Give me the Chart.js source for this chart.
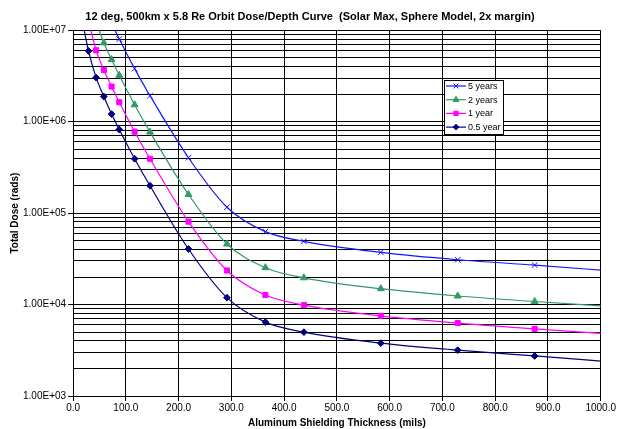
<!DOCTYPE html>
<html>
<head>
<meta charset="utf-8">
<script src="https://cdn.jsdelivr.net/npm/chart.js@4/dist/chart.umd.min.js"></script>
<style>
  html, body { margin: 0; padding: 0; background: #fff; }
  #wrap { width: 617px; height: 429px; }
</style>
</head>
<body>
<div id="wrap"><canvas id="myChart" width="617" height="429"></canvas></div>
<script>
// shielding thickness in mils (0.1 .. 7 g/cm2 of aluminium)
const thicknessMils = [14.6, 29.2, 43.7, 58.3, 72.9, 87.5, 116.6, 145.8, 218.7, 291.6, 364.5, 437.4, 583.2, 729.0, 874.8, 1020.6];

// total dose (rads)
const dose5yr  = [null, null, null, 1.8e7, 1.2e7, 8.0e6, 3.8e6, 1.92e6, 4.03e5, 1.16e5, 6.27e4, 4.91e4, 3.72e4, 3.09e4, 2.70e4, 2.33e4];
const dose2yr  = [null, null, 1.23e7, 7.26e6, 4.77e6, 3.21e6, 1.53e6, 7.69e5, 1.60e5, 4.59e4, 2.53e4, 1.96e4, 1.49e4, 1.24e4, 1.08e4, 9.5e3];
const dose1yr  = [null, 1.26e7, 6.04e6, 3.67e6, 2.42e6, 1.63e6, 7.76e5, 3.93e5, 8.07e4, 2.36e4, 1.27e4, 9.86e3, 7.53e3, 6.27e3, 5.42e3, 4.75e3];
const doseHalf = [1.55e7, 5.93e6, 3.03e6, 1.88e6, 1.21e6, 8.2e5, 3.93e5, 1.99e5, 4.05e4, 1.19e4, 6.42e3, 4.99e3, 3.78e3, 3.17e3, 2.74e3, 2.36e3];

const seriesNames = ['5 years', '2 years', '1 year', '0.5 year'];
const chartTitle = '12 deg, 500km x 5.8 Re Orbit Dose/Depth Curve  (Solar Max, Sphere Model, 2x margin)';
const xTitle = 'Aluminum Shielding Thickness (mils)';
const yTitle = 'Total Dose (rads)';

const font = 'Liberation Sans, Arial, sans-serif';

function pts(values) {
    return thicknessMils.map((x, i) => ({ x: x, y: values[i] }));
}

function mkSet(label, values, color, style, radius) {
    return {
        label: label,
        data: pts(values),
        borderColor: color,
        backgroundColor: color,
        borderWidth: 1.2,
        pointStyle: style,
        pointRadius: radius,
        pointBorderWidth: 1,
        pointBorderColor: color,
        pointBackgroundColor: color,
        cubicInterpolationMode: 'monotone',
        spanGaps: false
    };
}

const data = {
    datasets: [
        mkSet(seriesNames[0], dose5yr, 'rgb(20,20,255)', 'crossRot', 4),
        mkSet(seriesNames[1], dose2yr, 'rgb(51,153,102)', 'triangle', 4),
        mkSet(seriesNames[2], dose1yr, 'rgb(255,0,255)', 'rect', 3.6),
        mkSet(seriesNames[3], doseHalf, 'rgb(0,0,128)', 'rectRot', 3.4)
    ]
};

// legend drawn inside the plot like the original
const boxLegend = {
    id: 'boxLegend',
    afterDatasetsDraw(chart) {
        const ctx = chart.ctx;
        const x0 = 444, y0 = 80, w = 59, h = 54;
        ctx.save();
        ctx.fillStyle = '#fff';
        ctx.fillRect(x0, y0, w, h);
        ctx.strokeStyle = '#000';
        ctx.lineWidth = 1;
        ctx.strokeRect(x0 + 0.5, y0 + 0.5, w, h);
        chart.data.datasets.forEach((ds, i) => {
            const y = y0 + 6 + i * 13.7;
            ctx.strokeStyle = ds.borderColor;
            ctx.fillStyle = ds.borderColor;
            ctx.lineWidth = 1.2;
            ctx.beginPath();
            ctx.moveTo(x0 + 2, y);
            ctx.lineTo(x0 + 22, y);
            ctx.stroke();
            ctx.lineWidth = 1;
            Chart.helpers.drawPoint(ctx, {
                pointStyle: ds.pointStyle,
                radius: ds.pointRadius * 0.85,
                borderWidth: 1,
                rotation: 0
            }, x0 + 12, y);
            ctx.fillStyle = '#000';
            ctx.font = '9px ' + font;
            ctx.textBaseline = 'middle';
            ctx.textAlign = 'left';
            ctx.fillText(ds.label, x0 + 24, y + 0.5);
        });
        ctx.restore();
    }
};

function isDecade(v) {
    const e = Math.log10(v);
    return Math.abs(e - Math.round(e)) < 1e-9;
}

const config = {
    type: 'line',
    data: data,
    options: {
        responsive: false,
        animation: false,
        layout: { padding: { left: 0, right: -3, top: 0, bottom: 0 } },
        plugins: {
            legend: { display: false },
            tooltip: { enabled: false },
            title: {
                display: true,
                text: chartTitle,
                color: '#000',
                font: { family: font, size: 11, weight: 'bold' },
                padding: { top: 10, bottom: 7 }
            }
        },
        scales: {
            x: {
                type: 'linear',
                min: 0,
                max: 1000,
                ticks: {
                    stepSize: 100,
                    color: '#000',
                    font: { family: font, size: 10 },
                    padding: 1,
                    maxRotation: 0,
                    callback: v => v.toFixed(1)
                },
                grid: { color: '#000', lineWidth: 1, tickLength: 5, tickColor: '#000' },
                border: { color: '#000' },
                title: {
                    display: true,
                    text: xTitle,
                    color: '#000',
                    font: { family: font, size: 10, weight: 'bold' },
                    padding: { top: 2, bottom: 0 }
                }
            },
            y: {
                type: 'logarithmic',
                min: 1e3,
                max: 1e7,
                afterBuildTicks: scale => {
                    const t = [];
                    for (let e = 3; e < 7; e++) {
                        for (let m = 1; m < 10; m++) t.push({ value: m * Math.pow(10, e) });
                    }
                    t.push({ value: 1e7 });
                    scale.ticks = t;
                },
                ticks: {
                    autoSkip: false,
                    color: '#000',
                    font: { family: font, size: 10 },
                    padding: 2,
                    callback: v => {
                        if (!isDecade(v)) return '';
                        const e = Math.round(Math.log10(v));
                        return '1.00E+' + String(e).padStart(2, '0');
                    }
                },
                grid: {
                    color: '#000',
                    lineWidth: 1,
                    tickLength: 5,
                    tickColor: c => (c.tick && isDecade(c.tick.value)) ? '#000' : 'rgba(0,0,0,0)'
                },
                border: { color: '#000' },
                title: {
                    display: true,
                    text: yTitle,
                    color: '#000',
                    font: { family: font, size: 10, weight: 'bold' },
                    padding: { top: 9, bottom: 0 }
                }
            }
        }
    },
    plugins: [boxLegend]
};

const myChart = new Chart(document.getElementById('myChart'), config);
</script>
</body>
</html>
